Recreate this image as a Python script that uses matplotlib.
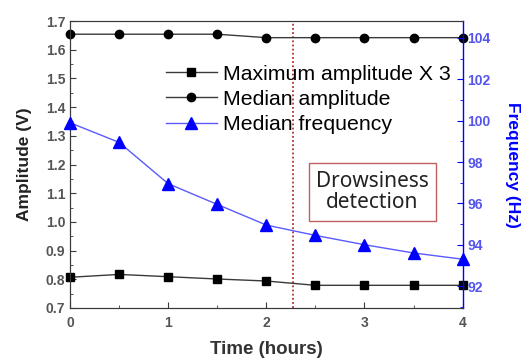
import matplotlib
matplotlib.use("Agg")
from matplotlib import pyplot as plt
from matplotlib.ticker import MultipleLocator

# data
hours = [0, 0.5, 1, 1.5, 2, 2.5, 3, 3.5, 4]
max_amp_x3 = [0.807, 0.817, 0.809, 0.801, 0.794, 0.779, 0.779, 0.779, 0.779]
median_amp = [1.654, 1.654, 1.654, 1.654, 1.642, 1.642, 1.642, 1.642, 1.642]
median_freq = [99.9, 98.95, 96.95, 95.95, 94.95, 94.45, 94.0, 93.6, 93.3]
detect_time = 2.27

plt.rcParams['font.family'] = ['Liberation Sans', 'DejaVu Sans']

fig = plt.figure(figsize=(5.21, 3.58), dpi=100)
ax = fig.add_axes([0.1344, 0.1397, 0.888 - 0.1344, 0.9413 - 0.1397])
ax2 = ax.twinx()

dark = '#3a3a3a'
blue = '#0000ff'
blue_line = '#5a5aff'

l1, = ax.plot(hours, max_amp_x3, color=dark, lw=1.0, marker='s', ms=6,
              mfc='black', mec='black', clip_on=False, zorder=3)
l2, = ax.plot(hours, median_amp, color=dark, lw=1.0, marker='o', ms=6,
              mfc='black', mec='black', clip_on=False, zorder=3)
l3, = ax2.plot(hours, median_freq, color=blue_line, lw=1.0, marker='^', ms=8,
               mfc=blue, mec=blue, clip_on=False, zorder=3)

ax.axvline(detect_time, color='#b03030', lw=1.3, ls=(0, (1, 1.3)), zorder=2)

ax.set_xlim(0, 4)
ax.set_ylim(0.7, 1.7)
ax2.set_ylim(90.94, 104.82)

ax.xaxis.set_major_locator(MultipleLocator(1))
ax.xaxis.set_minor_locator(MultipleLocator(0.5))
ax.yaxis.set_major_locator(MultipleLocator(0.1))
ax.yaxis.set_minor_locator(MultipleLocator(0.05))
ax2.yaxis.set_major_locator(MultipleLocator(2))
ax2.yaxis.set_minor_locator(MultipleLocator(1))

ax.tick_params(which='both', direction='in', color=dark, labelcolor='#555555',
               labelsize=10)
ax.tick_params(which='major', length=4)
ax.tick_params(which='minor', length=2.5)
ax.tick_params(axis='x', pad=6)
for lab in ax.get_xticklabels() + ax.get_yticklabels():
    lab.set_fontweight('bold')

ax2.tick_params(which='both', direction='in', color=blue, labelcolor='#5555ee',
                labelsize=10)
ax2.tick_params(which='major', length=4)
ax2.tick_params(which='minor', length=2.5)
for lab in ax2.get_yticklabels():
    lab.set_fontweight('bold')

for side in ['left', 'bottom', 'top']:
    ax.spines[side].set_color(dark)
    ax2.spines[side].set_color(dark)
ax2.spines['right'].set_color(blue)
ax2.spines['right'].set_linewidth(1.0)
ax.spines['right'].set_visible(False)

ax.set_xlabel('Time (hours)', fontsize=13.5, fontweight='bold', color='#333333',
              labelpad=8)
ax.set_ylabel('Amplitude (V)', fontsize=12.5, fontweight='bold', color='#222222',
              labelpad=10)
ax2.set_ylabel('Frequency (Hz)', fontsize=12.5, fontweight='bold', color=blue,
               rotation=270, labelpad=21)

leg = ax.legend([l1, l2, l3],
                ['Maximum amplitude X 3', 'Median amplitude', 'Median frequency'],
                loc='upper left', bbox_to_anchor=(0.222, 0.878), frameon=False,
                fontsize=15.3, handlelength=2.4, handletextpad=0.3,
                labelspacing=0.3, borderaxespad=0)

ax.text(3.08, 1.104, 'Drowsiness\ndetection', fontsize=15, color='#222222',
        family=['Noto Sans', 'DejaVu Sans'], ha='center', va='center',
        linespacing=1.05,
        bbox=dict(boxstyle='square,pad=0.35', fc='white', ec='#c06060', lw=1.0))

fig.savefig('out.png', dpi=100)
